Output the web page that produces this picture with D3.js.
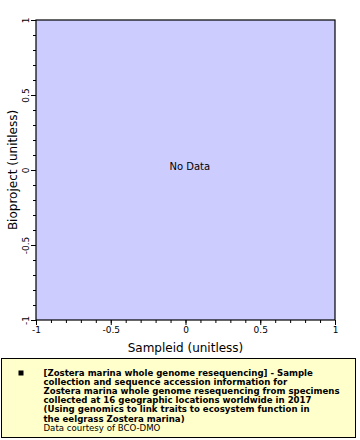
<!DOCTYPE html>
<html>
<head>
<meta charset="utf-8">
<script src="https://cdn.jsdelivr.net/npm/d3@7"></script>
<style>
  body { margin: 0; background: #fff; }
  text { font-family: "DejaVu Sans", sans-serif; fill: #000; }
</style>
</head>
<body>
<div id="chart"></div>
<script>
// chart data (the dataset returned nothing)
const sampleIds = [];
const bioprojects = [];
const xDomain = [-1, 1];
const yDomain = [-1, 1];
const majorTicks = [-1, -0.5, 0, 0.5, 1];
const minorTicks = d3.range(-10, 11).map(d => d / 10);
const xTitle = "Sampleid (unitless)";
const yTitle = "Bioproject (unitless)";
const legendLines = [
    "[Zostera marina whole genome resequencing] - Sample",
    "collection and sequence accession information for",
    "Zostera marina whole genome resequencing from specimens",
    "collected at 16 geographic locations worldwide in 2017",
    "(Using genomics to link traits to ecosystem function in",
    "the eelgrass Zostera marina)"
];
const credit = "Data courtesy of BCO-DMO";

let width = 360, height = 440;
let margin = { top: 20, right: 25, bottom: 120, left: 36 };
let w = width - margin.left - margin.right,
    h = height - margin.top - margin.bottom;

let svg = d3.select("#chart").append("svg")
    .attr("width", width)
    .attr("height", height);

let g = svg.append("g")
    .attr("transform", "translate(" + margin.left + "," + margin.top + ")");

let x = d3.scaleLinear().domain(xDomain).range([0, w]);
let y = d3.scaleLinear().domain(yDomain).range([h, 0]);

// plot background
g.append("rect")
    .attr("width", w)
    .attr("height", h)
    .attr("fill", "#ccccff");

// points (none)
g.selectAll("circle")
    .data(sampleIds.map((d, i) => [d, bioprojects[i]]))
    .enter().append("circle")
    .attr("cx", d => x(d[0]))
    .attr("cy", d => y(d[1]))
    .attr("r", 2);

g.append("text")
    .attr("x", w / 2 - 16)
    .attr("y", h / 2 - 4)
    .attr("dy", "0.35em")
    .style("font-size", "10px")
    .text("No Data");

// minor ticks
let xMinor = g.append("g")
    .attr("transform", "translate(0," + h + ")")
    .call(d3.axisBottom(x).tickValues(minorTicks).tickSize(3).tickFormat(""));
let yMinor = g.append("g")
    .call(d3.axisLeft(y).tickValues(minorTicks).tickSize(3).tickFormat(""));

// major ticks, plain hyphen for negatives
let fmt = d => String(d);
let xAxis = g.append("g")
    .attr("transform", "translate(0," + h + ")")
    .call(d3.axisBottom(x).tickValues(majorTicks).tickSize(5).tickSizeOuter(0).tickFormat(fmt));
let yAxis = g.append("g")
    .call(d3.axisLeft(y).tickValues(majorTicks).tickSize(5).tickSizeOuter(0).tickFormat(fmt));

[xMinor, yMinor, xAxis, yAxis].forEach(a => {
    a.select(".domain").remove();
    a.selectAll("line").attr("stroke", "#000");
});

xAxis.selectAll("text")
    .style("font-size", "9px")
    .attr("y", 7);

yAxis.selectAll("text")
    .style("font-size", "9px")
    .attr("x", 0)
    .attr("y", 0)
    .attr("dy", 0)
    .attr("text-anchor", "middle")
    .attr("transform", "translate(-7,0) rotate(-90)");

// frame
g.append("rect")
    .attr("width", w)
    .attr("height", h)
    .attr("fill", "none")
    .attr("stroke", "#000")
    .attr("stroke-width", 1.2);

// axis titles
g.append("text")
    .attr("x", w / 2)
    .attr("y", h + 32)
    .attr("text-anchor", "middle")
    .style("font-size", "12px")
    .text(xTitle);

g.append("text")
    .attr("transform", "translate(-19," + (h / 2) + ") rotate(-90)")
    .attr("text-anchor", "middle")
    .style("font-size", "12px")
    .text(yTitle);

// legend
let legend = svg.append("g").attr("transform", "translate(1.5,358.5)");
legend.append("rect")
    .attr("width", 354)
    .attr("height", 79)
    .attr("fill", "#ffffcc")
    .attr("stroke", "#000");

legend.append("rect")
    .attr("x", 17)
    .attr("y", 12)
    .attr("width", 5)
    .attr("height", 5)
    .attr("fill", "#000");

legend.selectAll("text.line")
    .data(legendLines)
    .enter().append("text")
    .attr("class", "line")
    .attr("x", 42)
    .attr("y", (d, i) => 17 + i * 9.2)
    .style("font-size", "8.6px")
    .style("font-weight", "bold")
    .text(d => d);

legend.append("text")
    .attr("x", 42)
    .attr("y", 17 + legendLines.length * 9.2)
    .style("font-size", "8.6px")
    .text(credit);
</script>
</body>
</html>
